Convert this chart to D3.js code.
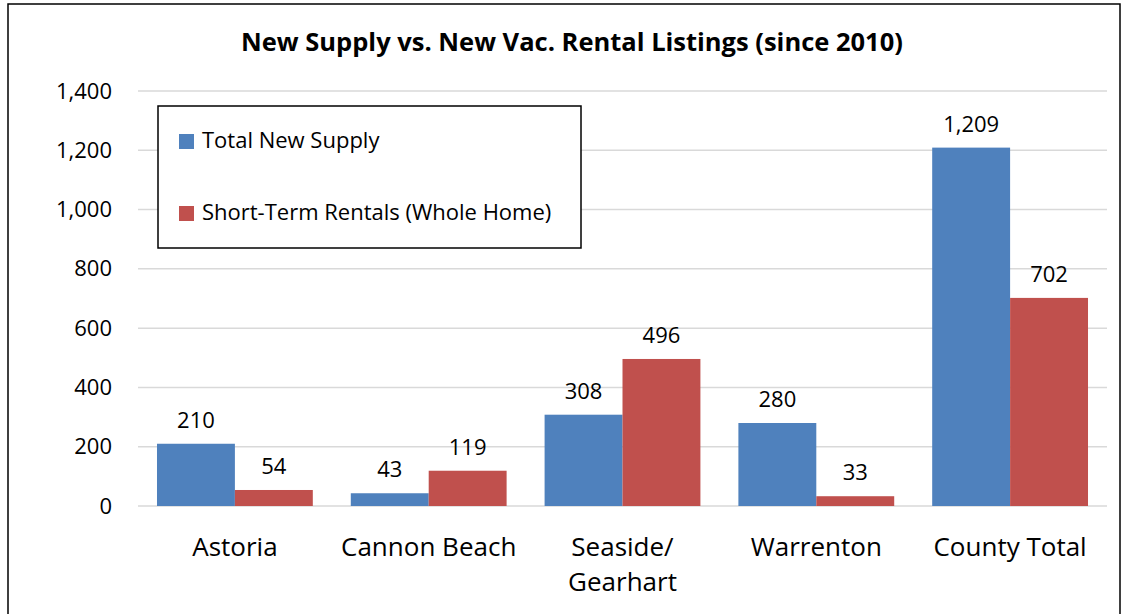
<!DOCTYPE html>
<html>
<head>
<meta charset="utf-8">
<script src="https://cdn.jsdelivr.net/npm/d3@7"></script>
<style>
  body { margin: 0; background: #fff; }
  text { font-family: "Open Sans", Lato, sans-serif; fill: #000; }
</style>
</head>
<body>
<div id="chart"></div>
<script>
// Data
var categories = ['Astoria', 'Cannon Beach', 'Seaside/\nGearhart', 'Warrenton', 'County Total'];
var seriesNames = ['Total New Supply', 'Short-Term Rentals (Whole Home)'];
var newSupply = [210, 43, 308, 280, 1209];
var strWhole = [54, 119, 496, 33, 702];
var yTicks = [0, 200, 400, 600, 800, 1000, 1200, 1400];
var colors = ['#4F81BD', '#C0504D'];

var width = 1126, height = 614;
var svg = d3.select('#chart').append('svg')
    .attr('width', width)
    .attr('height', height);

// outer frame
svg.append('rect')
    .attr('x', 8).attr('y', 4)
    .attr('width', 1112).attr('height', 620)
    .attr('fill', 'none').attr('stroke', '#000').attr('stroke-width', 1.5);

var plotL = 138, plotR = 1107, plotT = 91, plotB = 506;

var x = d3.scaleBand().domain(categories).range([plotL, plotR]).paddingInner(0.196).paddingOuter(0.098);
var xs = d3.scaleBand().domain([0, 1]).range([0, x.bandwidth()]);
var y = d3.scaleLinear().domain([0, 1400]).range([plotB, plotT]);

// gridlines
svg.append('g').selectAll('line')
    .data(yTicks)
    .enter().append('line')
    .attr('x1', plotL).attr('x2', plotR)
    .attr('y1', d => y(d)).attr('y2', d => y(d))
    .attr('stroke', '#d9d9d9').attr('stroke-width', 1.5);

// y axis
var yAxis = svg.append('g')
    .attr('transform', 'translate(' + plotL + ',0)')
    .call(d3.axisLeft(y).tickValues(yTicks).tickFormat(d3.format(',')).tickSize(0).tickPadding(26));
yAxis.select('.domain').remove();
yAxis.selectAll('text').attr('font-size', 22).style('font-family', '"Open Sans", sans-serif');

// x labels (multi-line)
var xl = svg.append('g').selectAll('text')
    .data(categories)
    .enter().append('text')
    .attr('x', d => x(d) + x.bandwidth() / 2)
    .attr('y', 556)
    .attr('text-anchor', 'middle')
    .attr('font-size', 26);
xl.selectAll('tspan')
    .data(d => d.split('\n'))
    .enter().append('tspan')
    .attr('x', function () { return d3.select(this.parentNode).attr('x'); })
    .attr('dy', (d, i) => i ? 35 : 0)
    .text(d => d);

// bars
var series = [newSupply, strWhole];
series.forEach(function (vals, s) {
    svg.append('g').selectAll('rect')
        .data(vals)
        .enter().append('rect')
        .attr('x', (d, i) => x(categories[i]) + xs(s))
        .attr('y', d => y(d))
        .attr('width', xs.bandwidth())
        .attr('height', d => plotB - y(d))
        .attr('fill', colors[s]);

    svg.append('g').selectAll('text')
        .data(vals)
        .enter().append('text')
        .attr('x', (d, i) => x(categories[i]) + xs(s) + xs.bandwidth() / 2)
        .attr('y', d => y(d) - 16)
        .attr('text-anchor', 'middle')
        .attr('font-size', 22)
        .text(d => d3.format(',')(d));
});

// title
svg.append('text')
    .attr('x', 572).attr('y', 51)
    .attr('text-anchor', 'middle')
    .attr('font-size', 25.5).attr('font-weight', 'bold')
    .text('New Supply vs. New Vac. Rental Listings (since 2010)');

// legend
var lg = svg.append('g');
lg.append('rect')
    .attr('x', 158).attr('y', 106)
    .attr('width', 423).attr('height', 142)
    .attr('fill', '#fff').attr('stroke', '#000').attr('stroke-width', 1.5);
seriesNames.forEach(function (name, i) {
    var base = 148 + i * 72;
    lg.append('rect')
        .attr('x', 179).attr('y', base - 14)
        .attr('width', 15).attr('height', 15)
        .attr('fill', colors[i]);
    lg.append('text')
        .attr('x', 202).attr('y', base)
        .attr('font-size', 22)
        .text(name);
});
</script>
</body>
</html>
